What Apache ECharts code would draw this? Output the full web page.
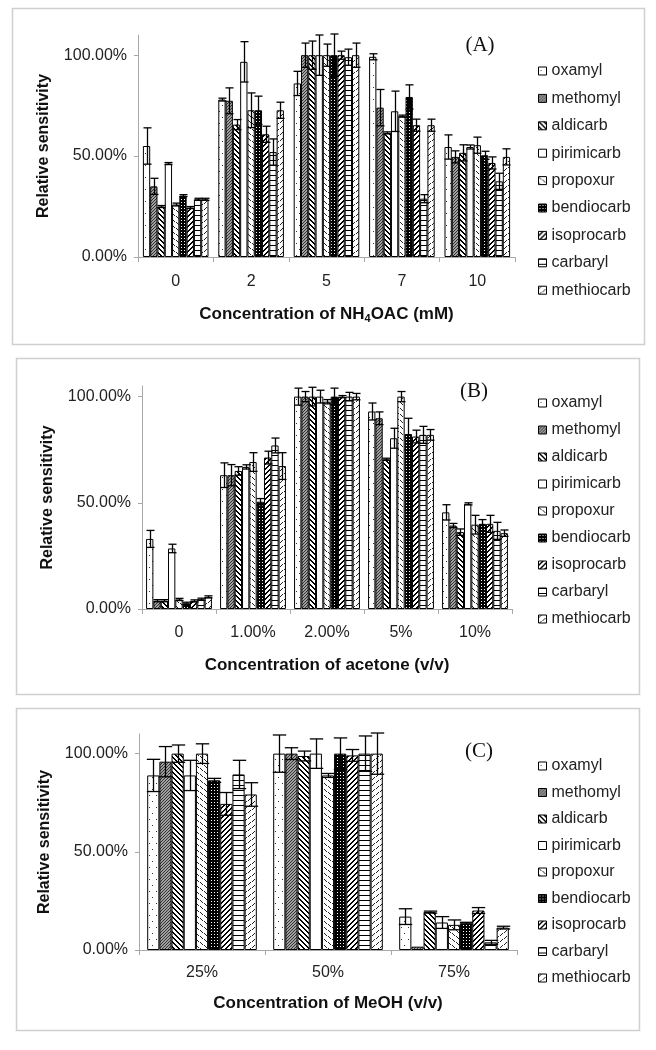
<!DOCTYPE html>
<html>
<head>
<meta charset="utf-8">
<script src="https://cdn.jsdelivr.net/npm/echarts@6/dist/echarts.min.js"></script>
<style>html,body{margin:0;padding:0;background:#fff}#c{width:656px;height:1050px}</style>
</head>
<body>
<div id="c"></div>
<script>
const compounds = ['oxamyl','methomyl','aldicarb','pirimicarb','propoxur','bendiocarb','isoprocarb','carbaryl','methiocarb'];

const catsA = ['0','2','5','7','10'];
const catsB = ['0','1.00%','2.00%','5%','10%'];
const catsC = ['25%','50%','75%'];
const yTicks = [0, 50, 100];

// rows = compounds (same order), columns = categories; values in %
const valuesA = [
  [55, 78, 86, 99.2, 54.5],
  [35, 77.4, 100, 74, 49.6],
  [25, 65.6, 100, 61.5, 51.6],
  [46.3, 96.7, 100, 72.2, 54.5],
  [26, 72.7, 100, 69.8, 55.4],
  [30.4, 72.7, 100, 79.3, 50.4],
  [24.5, 60.8, 100, 65.3, 46.6],
  [28.6, 52, 99, 28.9, 37.5],
  [28.6, 72.7, 100, 65.3, 49.6]
];
const errorsA = [
  [9, 0.7, 6, 1.5, 6],
  [4, 6.4, 6, 9, 3],
  [0.5, 2.5, 7, 0.5, 4],
  [0.5, 10, 10, 10, 1],
  [0.7, 8.6, 5.5, 0.5, 4],
  [0.5, 7, 10.5, 6, 2],
  [0.5, 4, 2, 3, 3],
  [0.5, 6.5, 4, 2, 4],
  [0.5, 4, 6, 3, 4]
];
const valuesB = [
  [33, 63, 100, 93, 45.5],
  [3.9, 63, 100, 89.8, 39.3],
  [3.9, 65, 100, 70.5, 36.2],
  [28.5, 66.9, 100, 80.4, 49.5],
  [4.5, 69.2, 97.6, 100, 39.7],
  [2.7, 50.5, 100, 82.4, 40.1],
  [3.8, 71.3, 100, 81.2, 40.1],
  [4.6, 77, 100, 82, 36.8],
  [5.7, 67.3, 100, 82, 35.7]
];
const errorsB = [
  [4, 5.8, 4, 4, 3.6],
  [0.5, 5, 2.4, 3, 1],
  [0.5, 2, 4.4, 0.5, 1.5],
  [2, 1, 3, 4.7, 0.5],
  [0.5, 4.4, 1, 2.4, 4.4],
  [0.5, 1.5, 4, 7.4, 2],
  [0.5, 3, 0.5, 3, 4],
  [0.5, 3.5, 2, 4, 4],
  [0.5, 6.3, 1.5, 2.5, 1.5]
];
const valuesC = [
  [88.9, 100, 17],
  [95.9, 100, 1.7],
  [100, 98.8, 19.3],
  [88.9, 100, 14],
  [100, 88.9, 12.8],
  [86.4, 100, 13.6],
  [74.4, 99.1, 20.1],
  [89.4, 100, 3.9],
  [79.2, 100, 11.4]
];
const errorsC = [
  [8.2, 9.5, 4],
  [7.7, 3, 0],
  [4.4, 2.5, 0.5],
  [7.7, 7.5, 3],
  [5, 1, 2.5],
  [1, 8, 0.5],
  [5.8, 3, 1.5],
  [7.2, 9, 1],
  [6, 10.5, 0.7]
];

// ---------- fill patterns ----------
function makePattern(w, h, bg, draw) {
  const c = document.createElement('canvas');
  c.width = w; c.height = h;
  const ctx = c.getContext('2d');
  ctx.fillStyle = bg; ctx.fillRect(0, 0, w, h);
  ctx.fillStyle = '#000';
  draw(ctx);
  return { image: c, repeat: 'repeat' };
}
function px(ctx, pts, col) { if (col) ctx.fillStyle = col; pts.forEach(p => ctx.fillRect(p[0], p[1], 1, 1)); }
const patterns = [
  makePattern(7, 12, '#fff', ctx => px(ctx, [[2,3],[5,9]], '#333')),
  makePattern(3, 3, '#a0a0a0', ctx => px(ctx, [[0,0],[1,2],[2,1]], '#333')),
  makePattern(5, 5, '#fff', ctx => px(ctx, [[0,0],[1,1],[2,2],[3,3],[4,4],[1,0],[2,1],[3,2],[4,3],[0,4]], '#000')),
  '#ffffff',
  makePattern(8, 6, '#fff', ctx => px(ctx, [[0,0],[1,1],[2,2],[4,3],[5,4],[6,5]], '#222')),
  makePattern(3, 3, '#000', ctx => px(ctx, [[1,1]], '#fff')),
  makePattern(5, 5, '#fff', ctx => px(ctx, [[4,0],[3,1],[2,2],[1,3],[0,4],[3,0],[2,1],[1,2],[0,3],[4,4]], '#000')),
  makePattern(4, 5, '#fff', ctx => ctx.fillRect(0, 0, 4, 1)),
  makePattern(8, 6, '#fff', ctx => px(ctx, [[2,0],[1,1],[0,2],[6,3],[5,4],[4,5]], '#222'))
];

const FONT = 'Liberation Sans, Arial, sans-serif';
const panels = [
  { cats: catsA, vals: valuesA, errs: errorsA, max: 110, gap: 0.13,
    grid: { left: 138, top: 35, width: 377, height: 222 },
    xname: [{t:'Concentration of NH'},{t:'4',sub:true},{t:'OAC (mM)'}], legTop: 58, legGap: 11.4, catMargin: 17, nameGap: 48 },
  { cats: catsB, vals: valuesB, errs: errorsB, max: 105, gap: 0.11,
    grid: { left: 142, top: 386, width: 370, height: 223 },
    xname: [{t:'Concentration of acetone (v/v)'}], legTop: 390, legGap: 11, catMargin: 16, nameGap: 48 },
  { cats: catsC, vals: valuesC, errs: errorsC, max: 110, gap: 0.13,
    grid: { left: 139, top: 734, width: 378, height: 216 },
    xname: [{t:'Concentration of MeOH (v/v)'}], legTop: 753, legGap: 10.5, catMargin: 15, nameGap: 45 }
];

function errRender(gap) {
  return function (params, api) {
    const j = api.value(0), v = api.value(1), e = api.value(2), i = api.value(3);
    if (!e) return null;
    const band = api.size([1, 0])[0];
    const c = api.coord([j, v]);
    const total = band * (1 - gap);
    const bw = total / 9;
    const x = Math.round(c[0] - total / 2 + (i + 0.5) * bw) + 0.5;
    const yt = api.coord([j, v + e])[1];
    const yb = api.coord([j, v - e])[1];
    const hw = bw * 0.55;
    const st = { stroke: '#000', lineWidth: 1.3 };
    return { type: 'group', children: [
      { type: 'line', shape: { x1: x, y1: yt, x2: x, y2: yb }, style: st },
      { type: 'line', shape: { x1: x - hw, y1: yt, x2: x + hw, y2: yt }, style: st },
      { type: 'line', shape: { x1: x - hw, y1: yb, x2: x + hw, y2: yb }, style: st }
    ]};
  };
}

const grids = [], xAxes = [], yAxes = [], series = [], legends = [];
panels.forEach((p, k) => {
  grids.push(p.grid);
  const nameStr = p.xname.map(s => s.sub ? '{s|' + s.t + '}' : '{b|' + s.t + '}').join('');
  xAxes.push({
    type: 'category', gridIndex: k, data: p.cats,
    axisLine: { lineStyle: { color: '#a8a8a8', width: 1 } },
    axisTick: { show: true, length: 5, lineStyle: { color: '#a8a8a8' } },
    axisLabel: { fontSize: 16, color: '#222', fontFamily: FONT, margin: p.catMargin },
    name: nameStr, nameLocation: 'middle', nameGap: p.nameGap,
    nameTextStyle: { rich: {
      b: { fontSize: 17, fontWeight: 'bold', color: '#111', fontFamily: FONT },
      s: { fontSize: 11, fontWeight: 'bold', color: '#111', fontFamily: FONT, verticalAlign: 'bottom', padding: [8, 0, 0, 0] }
    } }
  });
  yAxes.push({
    type: 'value', gridIndex: k, min: 0, max: p.max, interval: 50,
    splitLine: { show: false },
    axisLine: { show: true, lineStyle: { color: '#a8a8a8', width: 1 } },
    axisTick: { show: true, length: 4, customValues: yTicks, lineStyle: { color: '#a8a8a8' } },
    axisLabel: { customValues: yTicks, fontSize: 16, color: '#222', fontFamily: FONT, margin: 11,
      formatter: v => v.toFixed(2) + '%' },
    name: 'Relative sensitivity', nameLocation: 'middle', nameGap: 86, nameRotate: 90,
    nameTextStyle: { fontSize: 16, fontWeight: 'bold', color: '#111', fontFamily: FONT }
  });
  compounds.forEach((name, i) => {
    series.push({
      type: 'bar', name, xAxisIndex: k, yAxisIndex: k, data: p.vals[i],
      barGap: '0%', barCategoryGap: (p.gap * 100) + '%',
      itemStyle: { color: patterns[i], borderColor: '#000', borderWidth: 1 },
      emphasis: { disabled: true }, animation: false
    });
  });
  const edata = [];
  compounds.forEach((name, i) => p.cats.forEach((c, j) => edata.push([j, p.vals[i][j], p.errs[i][j], i])));
  series.push({
    type: 'custom', xAxisIndex: k, yAxisIndex: k, data: edata, z: 5, clip: false,
    encode: { x: 0, y: 1 }, renderItem: errRender(p.gap), animation: false, silent: true
  });
  legends.push({
    orient: 'vertical', left: 533, top: p.legTop, itemWidth: 8, itemHeight: 8, itemGap: p.legGap,
    icon: 'rect', data: compounds, selectedMode: false,
    itemStyle: { borderColor: '#000', borderWidth: 1 },
    textStyle: { fontSize: 16, color: '#222', fontFamily: FONT }
  });
});

const chart = echarts.init(document.getElementById('c'), null, { renderer: 'canvas' });
chart.setOption({
  animation: false,
  backgroundColor: '#fff',
  grid: grids, xAxis: xAxes, yAxis: yAxes, series, legend: legends,
  graphic: [
    { type: 'rect', shape: { x: 12.5, y: 8.5, width: 632, height: 336 }, style: { fill: 'none', stroke: '#cfcfcf', lineWidth: 1.5 }, z: -1 },
    { type: 'rect', shape: { x: 16.5, y: 358.5, width: 623, height: 336 }, style: { fill: 'none', stroke: '#cfcfcf', lineWidth: 1.5 }, z: -1 },
    { type: 'rect', shape: { x: 16.5, y: 708.5, width: 623, height: 322 }, style: { fill: 'none', stroke: '#cfcfcf', lineWidth: 1.5 }, z: -1 },
    { type: 'text', x: 480, y: 45, style: { text: '(A)', font: '21px "Liberation Serif", serif', fill: '#111', textAlign: 'center', textVerticalAlign: 'middle' } },
    { type: 'text', x: 474, y: 391, style: { text: '(B)', font: '21px "Liberation Serif", serif', fill: '#111', textAlign: 'center', textVerticalAlign: 'middle' } },
    { type: 'text', x: 479, y: 751, style: { text: '(C)', font: '21px "Liberation Serif", serif', fill: '#111', textAlign: 'center', textVerticalAlign: 'middle' } }
  ]
});
</script>
</body>
</html>
